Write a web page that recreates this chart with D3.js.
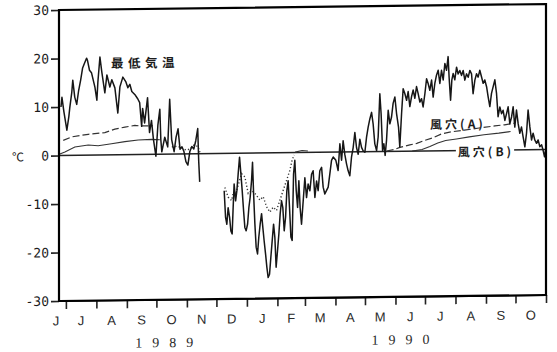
<!DOCTYPE html>
<html>
<head>
<meta charset="utf-8">
<script src="https://cdn.jsdelivr.net/npm/d3@7"></script>
<style>
  body { margin: 0; background: #fff; }
</style>
</head>
<body>
<div id="chart"></div>
<script>
// day offsets are counted from 1 July 1989
const startDate = new Date(1989, 6, 1);

const yTicks = [-30, -20, -10, 0, 10, 20, 30];
const monthLetters = ["J", "J", "A", "S", "O", "N", "D", "J", "F", "M", "A", "M", "J", "J", "A", "S", "O"];
const yearLabels = [["1989", 100], ["1990", 340]];

// 最低気温 (daily minimum air temperature), [day, °C]; null = missing
const airTemp = [
  [-5, 10], [-4, 12], [-2, 9], [1, 5.2], [3, 8], [4, 9.9], [6, 13], [7, 15.5], [9, 12], [11, 10.5],
  [13, 13.4], [15, 15.5], [17, 18], [19, 19], [21, 20], [22, 19.5], [24, 17.5], [26, 17], [29.5, 14], [31.5, 11.3],
  [32.5, 15], [34.6, 20.2], [36.6, 17], [39.6, 12.8], [41.7, 16.5], [44.7, 14], [46.7, 15.5], [49.8, 13.8], [52.8, 8.6], [54.9, 14],
  [57.9, 16], [61, 15], [63, 13.8], [65, 14.5], [67, 13], [70, 12.4], [73, 11.5], [75, 10.7], [77, 5.8], [78, 9.5],
  [80, 6.5], [83, 11.7], [85, 4.5], [87, 7], [89, 3.1], [91.5, -0.4], [93.5, 6], [95.5, 9.3], [96.5, 3], [97.5, 0.5],
  [100.5, 3.5], [103.5, 1.5], [105.5, 11.3], [107.5, 3], [110, 0.5], [112, 3.5], [114, 5.2], [116, 1], [118, 1.5], [120, 0.5],
  [122, -1.6], [124, -2.3], [126, 0.5], [128, 1.5], [130, 1], [132, 2.7], [134, 5.2], [135, -1.5], [136, -5.8],
  [150, null],
  [160.9, -7.7], [162.3, -13.2], [163.6, -14.6], [164.9, -11.2], [166.4, -13.2], [167.7, -16], [169, -16.6], [170, -11.2], [171, -6.3], [172.5, -9.8],
  [173.8, -7.7], [175.1, -4.3], [176.5, -0.8], [177.9, -4.3], [179.2, -7.7], [180.6, -11.8], [181.9, -15.3], [183.2, -16], [184.7, -14.6], [186, -11.2],
  [187.3, -9.1], [188.7, -5.7], [189.7, -1.9], [190.8, -8.4], [192.1, -14.6], [193.4, -19.4], [194.8, -20.8], [196.1, -17.3], [197.5, -14.6], [198.9, -12.5],
  [200.2, -15.4], [201.5, -18.1], [203, -20.9], [204.3, -23.6], [205.6, -25.7], [207, -25], [208.3, -21.6], [209.7, -18.1], [211.1, -14.7], [212.4, -17.4],
  [213.7, -23.6], [215.1, -20.2], [216.5, -16.7], [217.8, -12.6], [219.2, -9.9], [220.5, -11.3], [221.9, -16.1], [223.3, -13.3], [224.6, -7.8], [225.9, -5.8],
  [227.3, -11.3], [228.7, -17.4], [230, -18.1], [231.4, -4.4], [232.7, -1.6], [234.1, -7.8], [235.5, -11.3], [236.8, -5.8], [238.1, -11.4], [239.5, -14.8],
  [241.2, -10], [242.9, -5.2], [244.6, -9.3], [246.2, -6.5], [248, -7.9], [249.7, -4.5], [251.3, -3.8], [253.1, -9.3], [254.8, -5.9], [256.4, -7.9],
  [258.1, -3.8], [259.9, -3.1], [261.5, -7.2], [263.2, -8.6], [266.6, -7.2], [270, -1.7], [271.7, -1], [274.4, -1.7], [276.7, -3.8], [278.5, 1.7],
  [280.2, -1.7], [281.8, 2.3], [283.5, -0.5], [285.3, -2.5], [286.9, -3.9], [288.6, -4.9], [290.3, -1.1], [292, 0.9], [293.7, 4], [295.4, 0.9],
  [297.1, -0.5], [298.8, 2.6], [300.5, 0.9], [302.1, 0.2], [303.9, -0.1], [305.6, 3], [307.2, 5], [309, 6.8], [310.7, 8.1], [312.3, 5.7],
  [314, 1.6], [315.8, 0.2], [317.4, 3], [319.1, 11.9], [320.4, 7.8], [321.9, 0.2], [323.2, 1.6], [324.5, -0.8], [325.9, 2.3], [327.6, 8.5],
  [329.3, 5.7], [331, 7.1], [332.6, 9.9], [334.4, 11.2], [336.1, 7.8], [338.1, 5], [339.4, 0.9], [341.2, 7.8], [342.8, 12.9], [344.5, 11.9],
  [346.3, 10.5], [347.9, 12.3], [349.6, 9.2], [351.3, 11.2], [353, 12.6], [354.7, 10.9], [356.4, 13.3], [358, 11.9], [359.8, 10.1], [361.5, 10.8],
  [363.1, 9.1], [364.9, 11.8], [366.6, 14.9], [368.2, 13.9], [369.9, 12.5], [371.7, 14.6], [373.3, 11.1], [375, 13.9], [376.7, 15.6], [378.4, 16.6],
  [380.1, 13.9], [381.8, 16.6], [383.5, 14.6], [385.2, 18], [386.9, 16.6], [388.5, 19.4], [389.5, 15.2], [391, 10.4], [392.3, 14.6], [393.6, 15.9],
  [395.3, 14.6], [397.1, 17.2], [398.7, 15.8], [400.4, 16.5], [402.2, 15.5], [403.8, 16.5], [405.5, 14.5], [407.2, 15.8], [408.9, 15.1], [410.6, 16.5],
  [412.3, 15.8], [413.9, 11.7], [415.7, 14.5], [417.4, 15.8], [419, 15.1], [420.7, 16.5], [422.5, 15.1], [424.1, 13.8], [425.8, 14.5], [427.6, 13.1],
  [429.2, 11], [430.9, 9], [432.6, 11.7], [434.3, 13.1], [436, 14.5], [437.7, 11.7], [439.3, 6.9], [441.1, 8.9], [442.8, 7.5], [444.4, 8.2],
  [446.2, 6.1], [447.9, 7.5], [449.5, 8.9], [451.2, 5.4], [453, 6.8], [454.6, 8.9], [456.3, 4.7], [458, 8.2], [459.7, 5.4], [461.4, 3.4],
  [463.1, 4.7], [464.7, 2.7], [466.5, 0.6], [468.2, 3.4], [469.8, 8.2], [471.6, 4.7], [473.3, 2], [474.9, 3.4], [476.6, 2], [478.4, 1.3],
  [480, 2], [481.7, 0.6], [483.5, 1], [485.1, -0.2], [486.5, -1.5], [487.5, -0.3]
];

// 風穴(A) and 風穴(B)
const caveA1989 = [[-2.7, 3.1], [5.8, 3.8], [22.7, 4.3], [39.6, 4.6], [49.8, 5.3], [60, 5.7], [70.1, 6.0], [75.2, 5.9], [88.4, 5.9]];
const caveB1989 = [[-6.1, 0.3], [-1, 0.7], [9.1, 1.7], [22.7, 2.1], [32.8, 1.9], [46.4, 2.3], [60, 2.7], [73.5, 3.0], [87.1, 3.1], [95.5, 3.0]];
const caveA1990 = [[326, 0.1], [334, 0.4], [339.4, 0.8], [349.6, 1.3], [356.7, 1.6], [365, 2.2], [373, 2.7], [382, 3.5], [392, 3.9], [405, 4.2], [420, 4.6], [436, 5.0], [446, 5.2], [456, 5.5]];
const caveB1990 = [[352, 0], [362, 0.3], [370, 0.9], [378, 1.6], [386, 2.1], [397, 2.4], [410, 2.8], [425, 3.2], [440, 3.5], [452, 3.8]];
const caveSpring = [[233, 0.1], [240, 0.4], [246, 0.3]];

// winter record, dotted
const winterDots = [
  [107.7, 1.5], [113.8, 1.6], [117.9, 1.2], [122, 0.8], [126, 1.0], [130.1, 1.8], [134.2, 1.5], [136.2, 0.3],
  [150, null],
  [161.6, -7.0], [164.9, -9.0], [168.4, -9.7], [170, -8.3], [173.5, -7.7], [178.6, -4.2], [181.9, -4.9], [185.3, -8.3],
  [188.7, -7.7], [192.1, -8.3], [197.2, -9.7], [200.5, -9.0], [204, -11.1], [207.3, -12.2], [210.7, -11.2], [214.1, -11.9],
  [217.5, -9.8], [220.8, -7.8], [224.3, -5.7], [227.7, -3.6], [230, -1.5], [232, -0.5]
];

const width = 557, height = 352;
const toDate = d => new Date(startDate.getTime() + d * 864e5);

const x = d3.scaleTime()
  .domain([new Date(1989, 5, 24), new Date(1990, 10, 1)])
  .range([59, 546]);
const y = d3.scaleLinear().domain([-30, 30]).range([301, 10]);

const svg = d3.select("#chart").append("svg")
  .attr("width", width)
  .attr("height", height);

// the scanned page is slightly skewed
const g = svg.append("g").attr("transform", "matrix(1,-0.0123,0,1,0,0.73)");

const line = d3.line()
  .defined(d => d[1] !== null)
  .x(d => x(toDate(d[0])))
  .y(d => y(d[1]));

const [x0, x1] = x.range();

g.append("line")
  .attr("x1", x0).attr("x2", x1)
  .attr("y1", y(0)).attr("y2", y(0))
  .attr("stroke", "#222").attr("stroke-width", 1.5);

// cave series
[caveA1989, caveA1990].forEach(s => {
  g.append("path").datum(s)
    .attr("d", line).attr("fill", "none")
    .attr("stroke", "#333").attr("stroke-width", 1.2)
    .attr("stroke-dasharray", "7,3");
});
[caveB1989, caveB1990, caveSpring].forEach(s => {
  g.append("path").datum(s)
    .attr("d", line).attr("fill", "none")
    .attr("stroke", "#333").attr("stroke-width", 1.1);
});

g.append("path").datum(winterDots)
  .attr("d", line).attr("fill", "none")
  .attr("stroke", "#333").attr("stroke-width", 1.4)
  .attr("stroke-dasharray", "1.2,2.2");

g.append("path").datum(airTemp)
  .attr("d", line).attr("fill", "none")
  .attr("stroke", "#161616").attr("stroke-width", 1.5)
  .attr("stroke-linejoin", "round");

// y axis
const yAxis = g.append("g")
  .attr("transform", `translate(${x0},0)`)
  .call(d3.axisLeft(y).tickValues(yTicks).tickSize(8).tickSizeOuter(0).tickPadding(2).tickFormat(d => String(d)));
yAxis.selectAll(".tick line").attr("stroke", "#222").attr("stroke-width", 1.6);
yAxis.selectAll(".tick text")
  .attr("font-family", "'DejaVu Sans Mono', monospace")
  .attr("font-size", 13).attr("fill", "#1c1c1c");

// month ticks
const monthStarts = d3.timeMonth.range(new Date(1989, 6, 1), new Date(1990, 10, 2));
const xAxis = g.append("g")
  .attr("transform", `translate(0,${y(-30)})`)
  .call(d3.axisBottom(x).tickValues(monthStarts).tickSize(8).tickSizeOuter(0).tickFormat(""));
xAxis.selectAll(".tick line").attr("stroke", "#222").attr("stroke-width", 1.6);

// month letters at mid month
const monthAll = d3.timeMonth.range(new Date(1989, 5, 1), new Date(1990, 10, 1));
g.selectAll(".month")
  .data(monthLetters)
  .enter().append("text")
  .attr("class", "month")
  .attr("x", (d, i) => {
    const a = monthAll[i], b = d3.timeMonth.offset(a, 1);
    const mid = (x(a) + x(b)) / 2;
    return Math.max(mid, 56);
  })
  .attr("y", 321)
  .attr("text-anchor", "middle")
  .attr("dominant-baseline", "central")
  .attr("font-family", "'Liberation Sans', Arial, sans-serif")
  .attr("font-size", 13)
  .attr("fill", "#2a2a2a")
  .text(d => d);

g.selectAll(".year")
  .data(yearLabels)
  .enter().append("text")
  .attr("class", "year")
  .attr("x", d => x(toDate(d[1])) + 5)
  .attr("y", 344)
  .attr("text-anchor", "middle")
  .attr("dominant-baseline", "central")
  .attr("font-family", "'Liberation Serif', serif")
  .attr("font-size", 14)
  .attr("letter-spacing", 10)
  .attr("fill", "#2a2a2a")
  .text(d => d[0]);

// unit
g.append("text")
  .attr("x", 18).attr("y", y(0))
  .attr("text-anchor", "middle").attr("dominant-baseline", "central")
  .attr("font-family", "'Noto Sans CJK JP', sans-serif")
  .attr("font-size", 12)
  .attr("fill", "#1c1c1c")
  .text("℃");

// series labels
const labelFont = "'Noto Sans CJK JP', sans-serif";
g.append("text")
  .attr("x", 145).attr("y", 63)
  .attr("text-anchor", "middle").attr("dominant-baseline", "central")
  .attr("font-family", labelFont).attr("font-size", 12.5)
  .attr("font-weight", "bold").attr("fill", "#1c1c1c")
  .attr("letter-spacing", 4.5)
  .text("最低気温");

g.append("text")
  .attr("x", 458).attr("y", 128)
  .attr("text-anchor", "middle").attr("dominant-baseline", "central")
  .attr("font-family", labelFont).attr("font-size", 12)
  .attr("font-weight", "bold").attr("fill", "#1c1c1c")
  .attr("letter-spacing", 3)
  .text("風穴(A)");

const lb = g.append("g");
const lbText = lb.append("text")
  .attr("x", 486).attr("y", y(0) + 0.5)
  .attr("text-anchor", "middle").attr("dominant-baseline", "central")
  .attr("font-family", labelFont).attr("font-size", 12)
  .attr("font-weight", "bold").attr("fill", "#1c1c1c")
  .attr("letter-spacing", 3)
  .text("風穴(B)");
const bb = lbText.node().getBBox();
lb.insert("rect", "text")
  .attr("x", bb.x - 2).attr("y", bb.y)
  .attr("width", bb.width + 2).attr("height", bb.height)
  .attr("fill", "#fff");

// plot frame, drawn last
g.append("rect")
  .attr("x", x0).attr("y", y(30))
  .attr("width", x1 - x0).attr("height", y(-30) - y(30))
  .attr("fill", "none")
  .attr("stroke", "black")
  .attr("stroke-width", 2.2);
</script>
</body>
</html>
